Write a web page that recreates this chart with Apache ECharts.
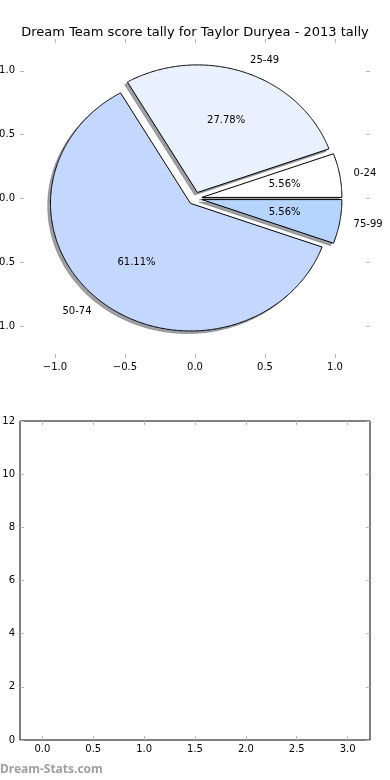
<!DOCTYPE html>
<html><head><meta charset="utf-8">
<script src="https://cdn.jsdelivr.net/npm/echarts@6/dist/echarts.min.js"></script>
<style>html,body{margin:0;padding:0;background:#fff}#c{width:390px;height:780px}</style>
</head><body><div id="c"></div><script>
const titleText = 'Dream Team score tally for Taylor Duryea - 2013 tally';
const categories = ['0-24', '25-49', '50-74', '75-99'];
const counts = [1, 5, 11, 1];
const pieTicks = [-1.0, -0.5, 0.0, 0.5, 1.0];
const emptyXTicks = [0, 0.5, 1.0, 1.5, 2.0, 2.5, 3.0];
const emptyYTicks = [0, 2, 4, 6, 8, 10, 12];

const sliceColors = ['#ffffff', '#e9f1ff', '#c4d8ff', '#b5d5ff'];
const EXPLODE = 0.05, SHADOW_DX = -0.02, SHADOW_DY = -0.02;
const FONT = 'DejaVu Sans';

const total = counts.reduce((a, b) => a + b, 0);
function geom(i) {
  let cum = 0;
  for (let j = 0; j < i; j++) cum += counts[j];
  const t1 = 2 * Math.PI * cum / total;
  const t2 = 2 * Math.PI * (cum + counts[i]) / total;
  const mid = (t1 + t2) / 2;
  return { t1, t2, mid, ex: EXPLODE * Math.cos(mid), ey: EXPLODE * Math.sin(mid) };
}
function wedgePoints(api, g, dx, dy) {
  const pts = [api.coord([g.ex + dx, g.ey + dy])];
  const steps = Math.max(4, Math.ceil((g.t2 - g.t1) / (Math.PI / 360)));
  for (let k = 0; k <= steps; k++) {
    const a = g.t1 + (g.t2 - g.t1) * k / steps;
    pts.push(api.coord([g.ex + dx + Math.cos(a), g.ey + dy + Math.sin(a)]));
  }
  return pts;
}
const fmtPie = v => (v < 0 ? '\u2212' + Math.abs(v).toFixed(1) : v.toFixed(1));
const tickStyle = { show: true, inside: true, length: 4, lineStyle: { color: '#b8b8b8', width: 1 } };
const labelStyle = { color: '#000', fontFamily: FONT, fontSize: 10 };
const noLine = { show: false, onZero: false };

const chart = echarts.init(document.getElementById('c'), null, { renderer: 'canvas' });
const data = counts.map((c, i) => [i, c]);

chart.setOption({
  animation: false,
  backgroundColor: '#fff',
  title: {
    text: titleText, left: 'center', top: 21,
    textStyle: { fontFamily: FONT, fontSize: 13, fontWeight: 'normal', color: '#000' }
  },
  grid: [
    { left: 20, right: 20, top: 39, height: 319, show: false, outerBoundsMode: 'none', containLabel: false },
    { left: 20, right: 20, top: 421, height: 319, show: true, borderColor: '#000', borderWidth: 1,
      backgroundColor: 'transparent', outerBoundsMode: 'none', containLabel: false }
  ],
  xAxis: [
    { gridIndex: 0, type: 'value', min: -1.25, max: 1.25, position: 'bottom',
      axisLine: noLine, splitLine: { show: false },
      axisTick: Object.assign({ customValues: pieTicks }, tickStyle),
      axisLabel: Object.assign({ customValues: pieTicks, formatter: fmtPie, margin: 4 }, labelStyle) },
    { gridIndex: 0, type: 'value', min: -1.25, max: 1.25, position: 'top',
      axisLine: noLine, splitLine: { show: false },
      axisTick: Object.assign({ customValues: pieTicks }, tickStyle),
      axisLabel: { show: false } },
    { gridIndex: 1, type: 'value', min: -0.22, max: 3.22, position: 'bottom',
      axisLine: noLine, splitLine: { show: false },
      axisTick: Object.assign({ customValues: emptyXTicks }, tickStyle),
      axisLabel: Object.assign({ customValues: emptyXTicks, formatter: v => v.toFixed(1), margin: 4 }, labelStyle) },
    { gridIndex: 1, type: 'value', min: -0.22, max: 3.22, position: 'top',
      axisLine: noLine, splitLine: { show: false },
      axisTick: Object.assign({ customValues: emptyXTicks }, tickStyle),
      axisLabel: { show: false } }
  ],
  yAxis: [
    { gridIndex: 0, type: 'value', min: -1.25, max: 1.25, position: 'left',
      axisLine: noLine, splitLine: { show: false },
      axisTick: Object.assign({ customValues: pieTicks }, tickStyle),
      axisLabel: Object.assign({ customValues: pieTicks, formatter: fmtPie, margin: 5 }, labelStyle) },
    { gridIndex: 0, type: 'value', min: -1.25, max: 1.25, position: 'right',
      axisLine: noLine, splitLine: { show: false },
      axisTick: Object.assign({ customValues: pieTicks }, tickStyle),
      axisLabel: { show: false } },
    { gridIndex: 1, type: 'value', min: 0, max: 12, position: 'left',
      axisLine: noLine, splitLine: { show: false },
      axisTick: Object.assign({ customValues: emptyYTicks }, tickStyle),
      axisLabel: Object.assign({ customValues: emptyYTicks, margin: 5 }, labelStyle) },
    { gridIndex: 1, type: 'value', min: 0, max: 12, position: 'right',
      axisLine: noLine, splitLine: { show: false },
      axisTick: Object.assign({ customValues: emptyYTicks }, tickStyle),
      axisLabel: { show: false } }
  ],
  series: [
    {
      type: 'custom', name: 'shadow', xAxisIndex: 0, yAxisIndex: 0, z: 1, clip: false, silent: true,
      data: data,
      renderItem: (params, api) => {
        const g = geom(params.dataIndex);
        return { type: 'polygon', shape: { points: wedgePoints(api, g, SHADOW_DX, SHADOW_DY) },
          style: { fill: 'rgba(62,66,77,0.5)', stroke: 'rgba(62,66,77,0.35)', lineWidth: 1 } };
      }
    },
    {
      type: 'custom', name: 'slices', xAxisIndex: 0, yAxisIndex: 0, z: 2, clip: false,
      data: data,
      renderItem: (params, api) => {
        const i = params.dataIndex;
        const g = geom(i);
        const lx = g.ex + 1.1 * Math.cos(g.mid), ly = g.ey + 1.1 * Math.sin(g.mid);
        const px = g.ex + 0.6 * Math.cos(g.mid), py = g.ey + 0.6 * Math.sin(g.mid);
        const lp = api.coord([lx, ly]);
        const pp = api.coord([px, py]);
        const pct = (counts[i] / total * 100).toFixed(2) + '%';
        return {
          type: 'group',
          children: [
            { type: 'polygon', shape: { points: wedgePoints(api, g, 0, 0) },
              style: { fill: sliceColors[i], stroke: '#000', lineWidth: 1, lineJoin: 'miter' } },
            { type: 'text', x: lp[0], y: lp[1],
              style: { text: categories[i], fill: '#000', font: '10px ' + FONT,
                align: lx > 0 ? 'left' : 'right', verticalAlign: 'middle' } },
            { type: 'text', x: pp[0], y: pp[1],
              style: { text: pct, fill: '#000', font: '10px ' + FONT,
                align: 'center', verticalAlign: 'middle' } }
          ]
        };
      }
    }
  ],
  graphic: [
    { type: 'text', left: 0, top: 764,
      style: { text: 'Dream-Stats.com', fill: '#a0a0a0', font: 'bold 12px "Noto Sans"' } }
  ]
});
</script></body></html>
